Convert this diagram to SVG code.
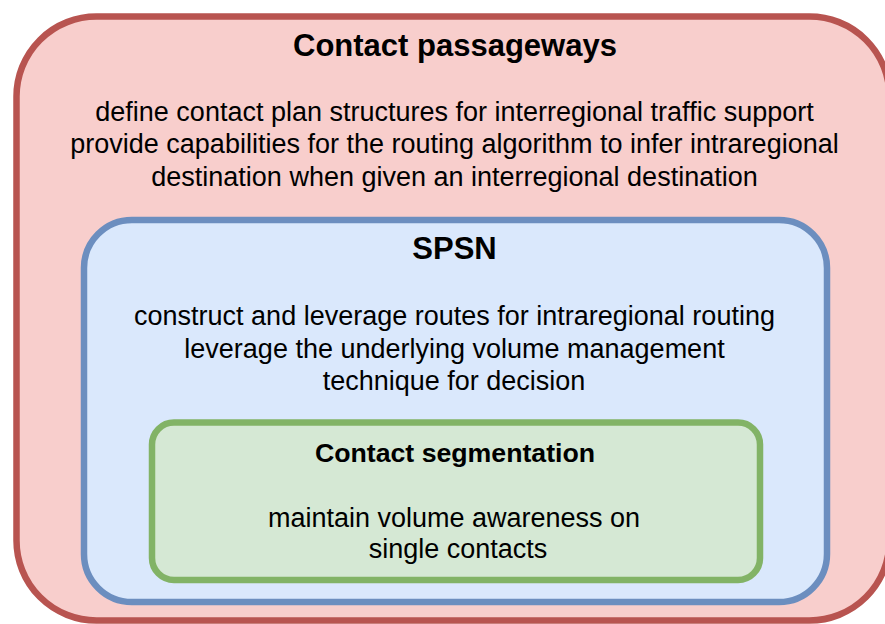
<svg xmlns="http://www.w3.org/2000/svg" width="885" height="624" viewBox="0 0 885 624">
<style>
text{font-family:"Liberation Sans",Arial,sans-serif;fill:#000;text-anchor:middle}
.t{font-weight:bold}
.b{font-size:27px}
.box{stroke-width:6.5}
</style>
<rect width="885" height="624" fill="#ffffff"/>
<g id="contact-passageways">
<rect class="box" x="16.5" y="16.5" width="873" height="604" rx="80" ry="80" fill="#f8cecc" stroke="#b85450"/>
<text class="t" x="455" y="56" font-size="31">Contact passageways</text>
<text class="b" x="454.5" y="121">define contact plan structures for interregional traffic support</text>
<text class="b" x="454.5" y="153">provide capabilities for the routing algorithm to infer intraregional</text>
<text class="b" x="454.5" y="186">destination when given an interregional destination</text>
</g>
<g id="spsn">
<rect class="box" x="84" y="220" width="743" height="382" rx="48" ry="48" fill="#dae8fc" stroke="#6c8ebf"/>
<text class="t" x="454.5" y="259" font-size="31">SPSN</text>
<text class="b" x="454.5" y="325">construct and leverage routes for intraregional routing</text>
<text class="b" x="454.5" y="358">leverage the underlying volume management</text>
<text class="b" x="454" y="390">technique for decision</text>
</g>
<g id="contact-segmentation">
<rect class="box" x="152" y="422.5" width="608" height="157.5" rx="22" ry="22" fill="#d5e8d4" stroke="#82b366"/>
<text class="t" x="455" y="462" font-size="26.7">Contact segmentation</text>
<text class="b" x="454" y="527">maintain volume awareness on</text>
<text class="b" x="458" y="558">single contacts</text>
</g>
<g id="connectors"/>
</svg>
